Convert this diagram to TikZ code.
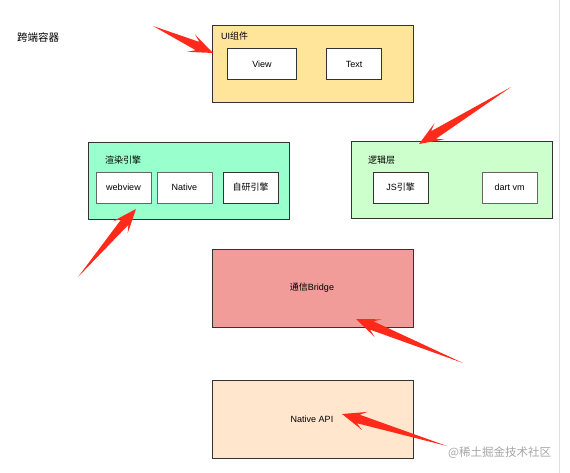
\documentclass[tikz,border=0pt]{standalone}
\usepackage{fontspec}
\setmainfont{Liberation Sans}
\newfontfamily\cjk{Noto Sans CJK SC}
\usetikzlibrary{calc}
\definecolor{uiyellow}{HTML}{FFE599}
\definecolor{rendergreen}{HTML}{99FFCC}
\definecolor{logicgreen}{HTML}{CCFFCC}
\definecolor{bridgered}{HTML}{F19C99}
\definecolor{apipeach}{HTML}{FFE6CC}
\definecolor{arrowred}{HTML}{FF2A1A}
\definecolor{edgegray}{HTML}{333333}
\tikzset{
  outerbox/.style={draw=edgegray, line width=0.8pt, anchor=north west, minimum width=201pt, minimum height=77pt, inner sep=0pt},
  innerbox/.style={draw=edgegray, fill=white, line width=0.8pt, minimum width=55pt, minimum height=31pt, inner sep=0pt, font=\fontsize{9}{11}\selectfont},
  lbl/.style={anchor=west, inner sep=0pt, font=\fontsize{9}{11}\selectfont},
  ctr/.style={inner sep=0pt, font=\fontsize{9}{11}\selectfont},
}
\newcommand\redarrow[2]{%
  \coordinate (rb) at ($(#2)!17pt!(#1)$);
  \coordinate (rw) at ($(#2)!24pt!(#1)$);
  \fill[arrowred] (#1) -- ($(rb)!4.5pt!90:(#2)$) -- ($(rw)!9.5pt!90:(#2)$) -- (#2)
    -- ($(rw)!9.5pt!-90:(#2)$) -- ($(rb)!4.5pt!-90:(#2)$) -- cycle;
}
\begin{document}
\begin{tikzpicture}[x=1pt,y=-1pt]
\useasboundingbox (0,0) rectangle (570,473);
\fill[white] (0,0) rectangle (570,473);
\draw[gray!25, line width=0.8pt] (559,0) -- (559,473);

\node[anchor=west, inner sep=0pt, font=\fontsize{10.5}{12}\selectfont\cjk] (title) at (17,37) {跨端容器};

% UI components
\node[outerbox, fill=uiyellow] (ui) at (212,25) {};
\node[lbl] (uil) at (221,36) {UI{\cjk 组件}};
\node[innerbox, minimum width=69pt] (view) at (262,64) {View};
\node[innerbox] (text) at (354,64) {Text};

% Render engine
\node[outerbox, fill=rendergreen] (render) at (88,142) {};
\node[lbl] (renderl) at (105,160) {\cjk 渲染引擎};
\node[innerbox, draw=gray!80!black] (webview) at (123.5,187.5) {webview};
\node[innerbox, draw=gray!80!black] (native) at (184.5,187.5) {Native};
\node[innerbox] (selfeng) at (250.5,187.5) {\cjk 自研引擎};

% Logic layer
\node[outerbox, fill=logicgreen] (logic) at (351,141) {};
\node[lbl] (logicl) at (368,160) {\cjk 逻辑层};
\node[innerbox] (js) at (400.5,187.5) {JS{\cjk 引擎}};
\node[innerbox, draw=gray!80!black] (dart) at (509.5,187.5) {dart vm};

% Bridge
\node[outerbox, fill=bridgered, minimum height=78pt] (bridge) at (212,249) {};
\node[ctr] (bridgel) at (312,288) {{\cjk 通信}Bridge};

% Native API
\node[outerbox, fill=apipeach, minimum height=78pt] (api) at (212,380) {};
\node[ctr] (apil) at (312,419) {Native API};

% watermark
\node[anchor=west, inner sep=0pt, text=gray!70, font=\fontsize{11.5}{13}\selectfont\cjk] (wm) at (448,453) {@稀土掘金技术社区};

% red arrows
\coordinate (t1) at (153,26); \coordinate (h1) at (213,53);
\coordinate (t2) at (511,87); \coordinate (h2) at (419,144);
\coordinate (t3) at (78,277); \coordinate (h3) at (136,209);
\coordinate (t4) at (463,363); \coordinate (h4) at (356,319);
\coordinate (t5) at (447,446); \coordinate (h5) at (342,414);
\redarrow{t1}{h1}
\redarrow{t2}{h2}
\redarrow{t3}{h3}
\redarrow{t4}{h4}
\redarrow{t5}{h5}
\end{tikzpicture}
\end{document}
